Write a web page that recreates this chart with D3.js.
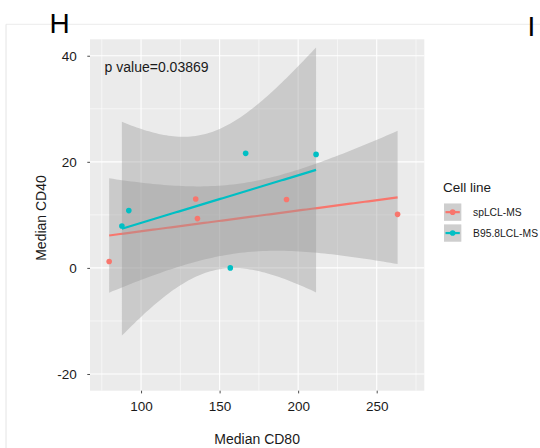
<!DOCTYPE html>
<html>
<head>
<meta charset="utf-8">
<script src="https://cdn.jsdelivr.net/npm/d3@7"></script>
<style>
  body { margin: 0; background: #fff; }
  svg text { font-family: "Liberation Sans", Arial, Helvetica, sans-serif; }
</style>
</head>
<body>
<div id="chart"></div>
<script>
// data
var groups = ["spLCL-MS", "B95.8LCL-MS"];
var groupColors = ["#F8766D", "#00BFC4"];
var splclX = [79.7, 134.8, 135.9, 192.6, 263.3];
var splclY = [1.2, 13.0, 9.3, 12.9, 10.1];
var b958X = [87.8, 92.2, 156.8, 166.6, 211.4];
var b958Y = [7.9, 10.8, 0.0, 21.6, 21.4];
var xTicks = [100, 150, 200, 250];
var xMinor = [75, 125, 175, 225, 275];
var yTicks = [-20, 0, 20, 40];
var yMinor = [-10, 10, 30];
var pLabel = "p value=0.03869";

var width = 540, height = 448;
var panel = {left: 90, right: 424.3, top: 39.3, bottom: 390.7};

var svg = d3.select("#chart").append("svg")
    .attr("width", width)
    .attr("height", height);

// figure frame (faint)
svg.append("line").attr("x1", 6).attr("x2", width).attr("y1", 24.3).attr("y2", 24.3)
    .attr("stroke", "#ececec").attr("stroke-width", 1);
svg.append("line").attr("x1", 6).attr("x2", 6).attr("y1", 24.3).attr("y2", height)
    .attr("stroke", "#e4e4e4").attr("stroke-width", 1);

// panel letters
svg.append("text").attr("x", 49.5).attr("y", 33.3).attr("font-size", 28).text("H");
svg.append("text").attr("x", 527.6).attr("y", 35.6).attr("font-size", 28).text("I");

var x = d3.scaleLinear().domain([67.5, 280.3]).range([panel.left, panel.right]);
var y = d3.scaleLinear().domain([-23.15, 43.1]).range([panel.bottom, panel.top]);

// background + grid
svg.append("rect")
    .attr("x", panel.left).attr("y", panel.top)
    .attr("width", panel.right - panel.left).attr("height", panel.bottom - panel.top)
    .attr("fill", "#EBEBEB");
var grid = svg.append("g").attr("stroke", "#fff");
grid.selectAll(".xm").data(xMinor).enter().append("line")
    .attr("x1", d => x(d)).attr("x2", d => x(d)).attr("y1", panel.top).attr("y2", panel.bottom)
    .attr("stroke-width", 0.55);
grid.selectAll(".ym").data(yMinor).enter().append("line")
    .attr("y1", d => y(d)).attr("y2", d => y(d)).attr("x1", panel.left).attr("x2", panel.right)
    .attr("stroke-width", 0.55);
grid.selectAll(".xM").data(xTicks).enter().append("line")
    .attr("x1", d => x(d)).attr("x2", d => x(d)).attr("y1", panel.top).attr("y2", panel.bottom)
    .attr("stroke-width", 1.1);
grid.selectAll(".yM").data(yTicks).enter().append("line")
    .attr("y1", d => y(d)).attr("y2", d => y(d)).attr("x1", panel.left).attr("x2", panel.right)
    .attr("stroke-width", 1.1);

// linear fit with 95% confidence band, like geom_smooth(method = "lm")
function lmFit(xs, ys) {
  var n = xs.length;
  var mx = d3.mean(xs), my = d3.mean(ys);
  var sxx = d3.sum(xs, d => (d - mx) * (d - mx));
  var sxy = d3.sum(xs.map((d, i) => (d - mx) * (ys[i] - my)));
  var b = sxy / sxx, a = my - b * mx;
  var sse = d3.sum(xs.map((d, i) => Math.pow(ys[i] - (a + b * d), 2)));
  var s = Math.sqrt(sse / (n - 2));
  var t = 3.182446; // qt(0.975, 3)
  var lo = d3.min(xs), hi = d3.max(xs);
  var pts = d3.range(80).map(function(i) {
    var xv = lo + (hi - lo) * i / 79;
    var fit = a + b * xv;
    var se = s * Math.sqrt(1 / n + (xv - mx) * (xv - mx) / sxx);
    return {x: xv, fit: fit, lo: fit - t * se, hi: fit + t * se};
  });
  return pts;
}

var series = [
  {name: groups[0], color: groupColors[0], xs: splclX, ys: splclY},
  {name: groups[1], color: groupColors[1], xs: b958X, ys: b958Y}
];

var area = d3.area().x(d => x(d.x)).y0(d => y(d.lo)).y1(d => y(d.hi));
var line = d3.line().x(d => x(d.x)).y(d => y(d.fit));

var plot = svg.append("g");
series.forEach(function(s) {
  var fit = lmFit(s.xs, s.ys);
  plot.append("path").datum(fit).attr("d", area)
      .attr("fill", "#999999").attr("fill-opacity", 0.4);
  plot.append("path").datum(fit).attr("d", line)
      .attr("fill", "none").attr("stroke", s.color).attr("stroke-width", 2.2);
});
series.forEach(function(s) {
  plot.selectAll(null).data(s.xs).enter().append("circle")
      .attr("cx", d => x(d)).attr("cy", (d, i) => y(s.ys[i]))
      .attr("r", 2.8).attr("fill", s.color);
});

// p value annotation
svg.append("text").attr("x", x(76.8)).attr("y", 72)
    .attr("font-size", 14).attr("fill", "#1a1a1a").text(pLabel);

// axes
var yAxis = svg.append("g").attr("transform", "translate(" + panel.left + ",0)")
    .call(d3.axisLeft(y).tickValues(yTicks).tickSize(2.7).tickPadding(10.6).tickFormat(d3.format("d")));
var xAxis = svg.append("g").attr("transform", "translate(0," + panel.bottom + ")")
    .call(d3.axisBottom(x).tickValues(xTicks).tickSize(2.7).tickPadding(8.3));
[xAxis, yAxis].forEach(function(g) {
  g.select(".domain").remove();
  g.selectAll(".tick line").attr("stroke", "#4d4d4d").attr("stroke-width", 1);
  g.selectAll(".tick text").attr("fill", "#1a1a1a").attr("font-size", 13.5)
      .attr("font-family", "'Liberation Sans', Arial, sans-serif");
});
yAxis.selectAll(".tick text").text(d => d < 0 ? "-" + Math.abs(d) : d);

svg.append("text").attr("x", (panel.left + panel.right) / 2).attr("y", 444)
    .attr("text-anchor", "middle").attr("font-size", 14).attr("fill", "#1a1a1a").text("Median CD80");
svg.append("text")
    .attr("transform", "translate(45.5," + ((panel.top + panel.bottom) / 2 + 3) + ") rotate(-90)")
    .attr("text-anchor", "middle").attr("font-size", 14).attr("fill", "#1a1a1a").text("Median CD40");

// legend
var legend = svg.append("g").attr("transform", "translate(443,0)");
legend.append("text").attr("x", 0).attr("y", 192).attr("font-size", 13.5)
    .attr("fill", "#1a1a1a").text("Cell line");
var key = 17.3;
series.forEach(function(s, i) {
  var ky = 203.5 + i * (key + 3.6);
  var g = legend.append("g").attr("transform", "translate(1," + ky + ")");
  g.append("rect").attr("width", key).attr("height", key).attr("fill", "#F2F2F2");
  g.append("rect").attr("width", key).attr("height", key).attr("fill", "#999999").attr("fill-opacity", 0.4);
  g.append("line").attr("x1", 1.5).attr("x2", key - 1.5).attr("y1", key / 2).attr("y2", key / 2)
      .attr("stroke", s.color).attr("stroke-width", 2.2);
  g.append("circle").attr("cx", key / 2).attr("cy", key / 2).attr("r", 2.8).attr("fill", s.color);
  legend.append("text").attr("x", 30).attr("y", ky + key / 2 + 3.8)
      .attr("font-size", 10.3).attr("textLength", s.name === groups[1] ? 65 : null)
      .attr("fill", "#1a1a1a").text(s.name);
});
</script>
</body>
</html>
